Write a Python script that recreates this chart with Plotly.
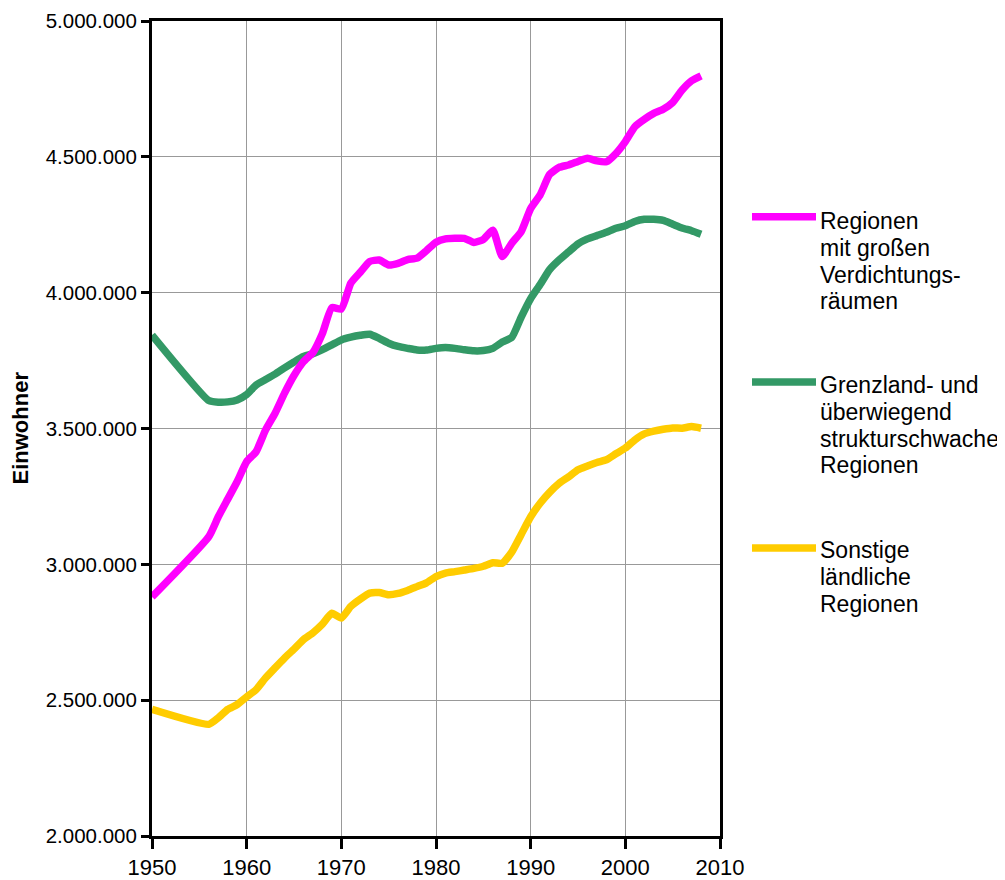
import plotly.graph_objects as go

# Jahre (1950, dann jährlich ab 1956)
years = [1950] + list(range(1956, 2009))

# Regionen mit großen Verdichtungsräumen
verdichtung = [
    2880000,
    3102000, 3175000, 3240000, 3305000, 3378000, 3415000, 3495000, 3556000, 3630000, 3695000,
    3746000, 3780000, 3850000, 3945000, 3940000, 4035000, 4075000, 4115000, 4120000, 4102000,
    4108000, 4122000, 4127000, 4155000, 4186000, 4198000, 4200000, 4200000, 4185000, 4196000,
    4230000, 4133000, 4182000, 4225000, 4310000, 4360000, 4435000, 4461000, 4470000, 4483000,
    4495000, 4485000, 4482000, 4512000, 4556000, 4611000, 4638000, 4660000, 4675000, 4700000,
    4746000, 4780000, 4798000,
]

# Grenzland- und überwiegend strukturschwache Regionen
grenzland = [
    3844000,
    3603000, 3597000, 3598000, 3605000, 3625000, 3660000, 3680000, 3700000, 3723000, 3745000,
    3765000, 3775000, 3790000, 3808000, 3826000, 3836000, 3843000, 3847000, 3832000, 3814000,
    3802000, 3795000, 3789000, 3789000, 3795000, 3798000, 3795000, 3790000, 3786000, 3787000,
    3795000, 3818000, 3835000, 3910000, 3978000, 4030000, 4085000, 4120000, 4150000, 4180000,
    4198000, 4210000, 4222000, 4237000, 4246000, 4262000, 4270000, 4270000, 4266000, 4252000,
    4238000, 4228000, 4215000,
]

# Sonstige ländliche Regionen
laendlich = [
    2466000,
    2411000, 2435000, 2466000, 2484000, 2512000, 2539000, 2582000, 2619000, 2655000, 2688000,
    2723000, 2748000, 2780000, 2820000, 2802000, 2845000, 2872000, 2894000, 2896000, 2888000,
    2893000, 2904000, 2918000, 2932000, 2955000, 2968000, 2973000, 2979000, 2985000, 2993000,
    3006000, 3004000, 3045000, 3110000, 3175000, 3225000, 3265000, 3298000, 3322000, 3348000,
    3362000, 3375000, 3385000, 3407000, 3428000, 3458000, 3480000, 3490000, 3497000, 3502000,
    3501000, 3507000, 3501000,
]

legend_lines = [
    ["Regionen", "mit großen", "Verdichtungs-", "räumen"],
    ["Grenzland- und", "überwiegend", "strukturschwache", "Regionen"],
    ["Sonstige", "ländliche", "Regionen"],
]
y_title = "Einwohner"

colors = ["#FF00FF", "#339966", "#FFCC00"]
series = [verdichtung, grenzland, laendlich]

# page body has an 8px margin, so the figure is a bit smaller than the window
OFF = 8
W, H = 1005 - OFF, 880 - OFF
L, T = 152 - OFF, 21 - OFF
pw, ph = 568, 815
R, B = W - L - pw, H - T - ph


def px_x(px):
    # window pixel -> paper x
    return (px - OFF - L) / pw


def px_y(py):
    # window pixel -> paper y
    return (T + ph - (py - OFF)) / ph


fig = go.Figure()

# draw order: green, yellow, magenta on top
for i in [1, 2, 0]:
    fig.add_trace(go.Scatter(x=years, y=series[i], mode='lines',
                             line=dict(color=colors[i], width=7.5, shape='spline', smoothing=0.5),
                             showlegend=False, hoverinfo='skip'))

# hand-made legend (line sample + multi-line label)
entry_tops = [216.7, 382, 548]      # y of line sample
first_text = [221.3, 385.3, 550.3]  # centre of first text line
shapes, annots = [], []
for k, lines in enumerate(legend_lines):
    shapes.append(dict(type='line', xref='paper', yref='paper',
                       x0=px_x(752), x1=px_x(816), y0=px_y(entry_tops[k]), y1=px_y(entry_tops[k]),
                       line=dict(color=colors[k], width=7.5)))
    for j, t in enumerate(lines):
        annots.append(dict(xref='paper', yref='paper', x=px_x(818), y=px_y(first_text[k] + j * 26.7),
                           xanchor='left', yanchor='middle', text=t, showarrow=False,
                           font=dict(size=23, color='black')))

annots.append(dict(xref='paper', yref='paper', x=px_x(20), y=0.5, text="<b>" + y_title + "</b>",
                   textangle=-90, xanchor='center', yanchor='middle', showarrow=False,
                   font=dict(size=22, color='black')))

fig.update_layout(
    template='none',
    width=W, height=H,
    margin=dict(l=L, r=R, t=T, b=B, autoexpand=False),
    paper_bgcolor='white', plot_bgcolor='white',
    font=dict(family='Liberation Sans, Arial, sans-serif', color='black'),
    separators=',.',
    shapes=shapes,
    annotations=annots,
    xaxis=dict(
        range=[1950, 2010], dtick=10, tick0=1950,
        showline=True, linecolor='black', linewidth=3, mirror=True,
        ticks='outside', ticklen=10, tickwidth=3, tickcolor='black',
        showgrid=True, gridcolor='#999999', gridwidth=1, zeroline=False,
        tickfont=dict(size=22), automargin=False,
    ),
    yaxis=dict(
        range=[2000000, 5000000], dtick=500000, tick0=2000000, tickformat=',d',
        showline=True, linecolor='black', linewidth=3, mirror=True,
        ticks='outside', ticklen=8, tickwidth=3, tickcolor='black',
        showgrid=True, gridcolor='#999999', gridwidth=1, zeroline=False,
        tickfont=dict(size=20.5), automargin=False,
    ),
)

fig.write_html("out.html")
